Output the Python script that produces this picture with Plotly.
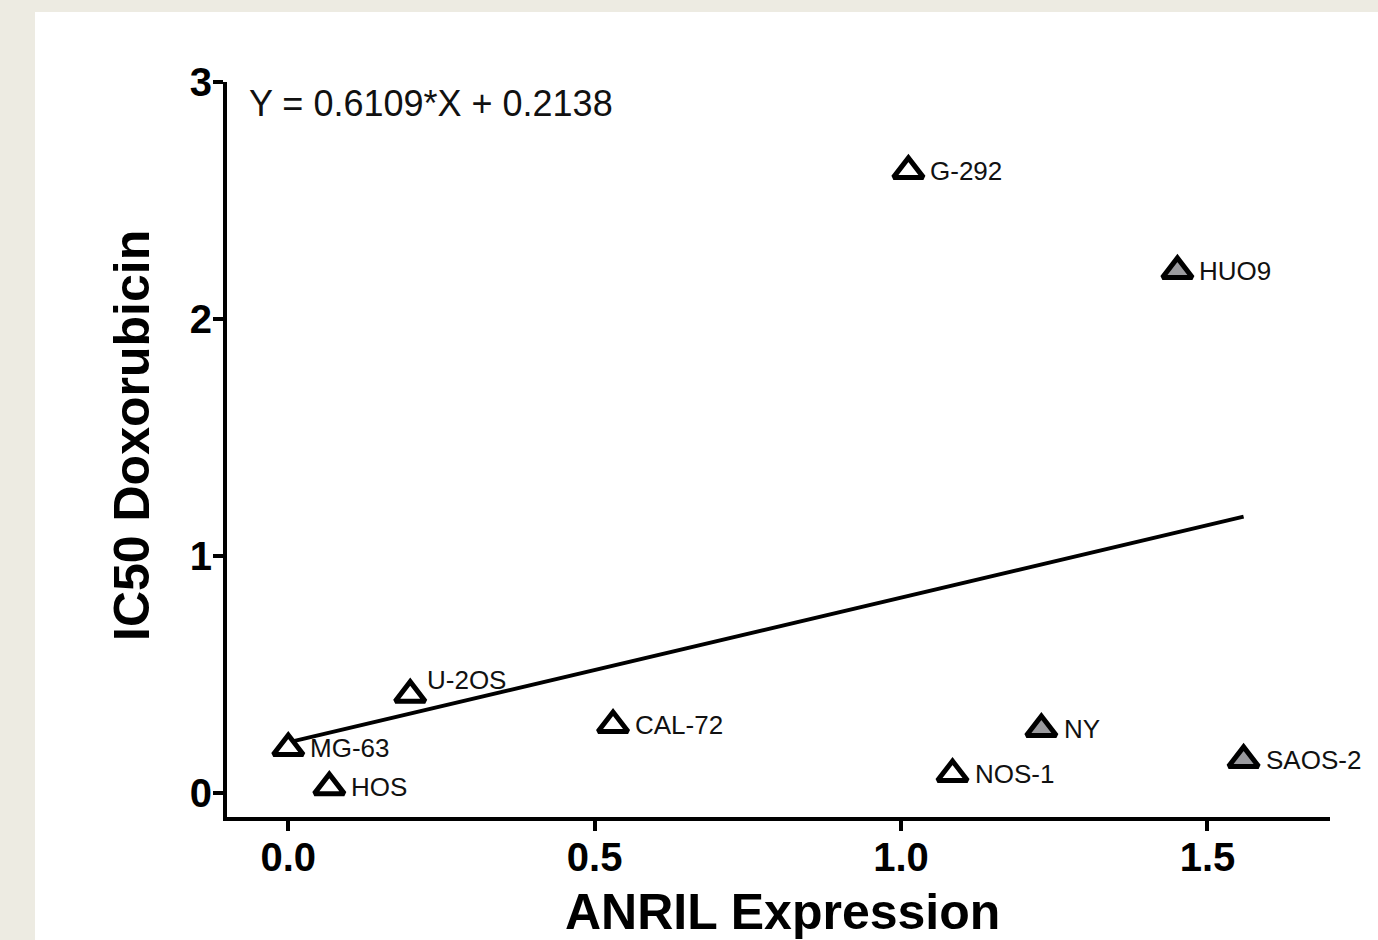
import plotly.graph_objects as go

# ---- data ----
cell_lines = ["MG-63", "HOS", "U-2OS", "CAL-72", "G-292", "HUO9", "NY", "NOS-1", "SAOS-2"]
anril_expression = [0.0, 0.067, 0.199, 0.53, 1.012, 1.451, 1.229, 1.084, 1.559]
ic50_doxorubicin = [0.19, 0.025, 0.415, 0.287, 2.625, 2.203, 0.27, 0.08, 0.14]
group_filled = [False, False, False, False, False, True, True, False, True]
fit_slope = 0.6109
fit_intercept = 0.2138
equation_text = "Y = 0.6109*X + 0.2138"
x_ticks = [0.0, 0.5, 1.0, 1.5]
x_tick_labels = ["0.0", "0.5", "1.0", "1.5"]
y_ticks = [0, 1, 2, 3]
y_tick_labels = ["0", "1", "2", "3"]

# ---- layout constants ----
W, H = 1378, 940
L, R, T, B = 227, 48, 82, 123
PW, PH = W - L - R, H - T - B
BEIGE = "#EDEBE2"
GRAY = "#9a9a9e"
FONT = "Liberation Sans, Arial, sans-serif"

def px_x(p):
    return (p - L) / PW

def px_y(p):
    return (H - B - p) / PH

fig = go.Figure()

# regression line
fit_x = [min(anril_expression), max(anril_expression)]
fit_y = [fit_slope * v + fit_intercept for v in fit_x]
fig.add_trace(go.Scatter(x=fit_x, y=fit_y, mode="lines",
                         line=dict(color="black", width=4),
                         hoverinfo="skip", showlegend=False))

# points
fig.add_trace(go.Scatter(
    x=anril_expression, y=ic50_doxorubicin, mode="markers",
    marker=dict(symbol="triangle-up", size=26,
                color=[GRAY if g else "white" for g in group_filled],
                line=dict(color="black", width=5)),
    text=cell_lines, showlegend=False, cliponaxis=False))

# point labels
label_xshift = [20, 20, 15, 20, 20, 20, 21, 20, 20]
label_yshift = [0, 0, 15, 0, 0, 0, 0, 0, 0]
for name, xv, yv, dx, dy in zip(cell_lines, anril_expression, ic50_doxorubicin,
                                label_xshift, label_yshift):
    fig.add_annotation(x=xv, y=yv, text=name, showarrow=False,
                       xanchor="left", yanchor="middle", xshift=dx, yshift=dy,
                       font=dict(family=FONT, size=26, color="#111"))

# equation
fig.add_annotation(xref="paper", yref="paper", x=px_x(247), y=px_y(103),
                   text=equation_text, showarrow=False, xanchor="left", yanchor="middle",
                   font=dict(family=FONT, size=36, color="#111"))

# axis titles
fig.add_annotation(xref="paper", yref="paper", x=px_x(782), y=px_y(912),
                   text="<b>ANRIL Expression</b>", showarrow=False,
                   xanchor="center", yanchor="middle",
                   font=dict(family=FONT, size=50, color="black"))
fig.add_annotation(xref="paper", yref="paper", x=px_x(132), y=px_y(436),
                   text="<b>IC50 Doxorubicin</b>", showarrow=False, textangle=-90,
                   xanchor="center", yanchor="middle",
                   font=dict(family=FONT, size=50, color="black"))

# white panel on beige page
fig.add_shape(type="rect", xref="paper", yref="paper",
              x0=px_x(35), x1=px_x(W + 20), y0=px_y(H + 20), y1=px_y(12),
              fillcolor="white", line=dict(width=0), layer="below")

axis_common = dict(showline=True, linecolor="black", linewidth=4,
                   ticks="outside", ticklen=10, tickwidth=4, tickcolor="black",
                   showgrid=False, zeroline=False,
                   tickfont=dict(family=FONT, size=40, color="black", weight="bold"))

fig.update_layout(
    width=W, height=H,
    margin=dict(l=L, r=R, t=T, b=B),
    paper_bgcolor=BEIGE, plot_bgcolor="white",
    xaxis=dict(range=[-0.1, 1.7], tickvals=x_ticks, ticktext=x_tick_labels,
               ticklabelstandoff=-8, **axis_common),
    yaxis=dict(range=[-0.101, 3.0], tickvals=y_ticks, ticktext=y_tick_labels,
               ticklabelstandoff=-7, **axis_common),
    showlegend=False,
)

fig.write_html("out.html", config={"displayModeBar": False},
               post_script="document.body.style.margin='0';"
                           "document.body.style.overflow='hidden';"
                           "document.documentElement.style.overflow='hidden';")
